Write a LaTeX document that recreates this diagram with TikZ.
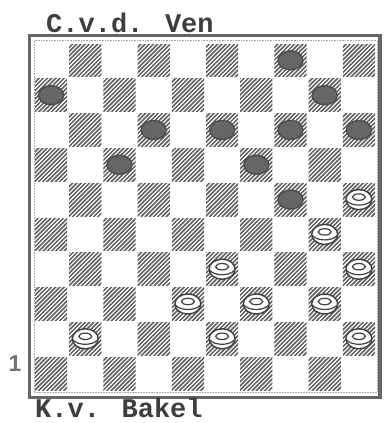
\documentclass[tikz,border=0pt]{standalone}
\usepackage{fontspec}
\usetikzlibrary{shapes.geometric}
\newfontfamily\typefont{Liberation Mono}
\newfontfamily\numfont{Liberation Sans}
\definecolor{ink}{HTML}{3E3E3E}
\definecolor{hatchc}{HTML}{606060}
\definecolor{framec}{HTML}{666666}
\tikzset{
  hatch/.style={draw=hatchc, line width=1.5pt},
  bpiece/.style={ellipse, minimum width=25pt, minimum height=19pt, inner sep=0pt,
    fill=black!60, draw=black!70, line width=1.4pt},
  wpiece/.style={ellipse, minimum width=26pt, minimum height=20pt, inner sep=0pt,
    fill=white, draw=black!75, line width=1.4pt},
  wdet/.style={draw=black!75, line width=1.2pt},
  label/.style={text=ink, inner sep=0pt, anchor=base west, font=\typefont\bfseries\fontsize{27}{27}\selectfont}
}
\begin{document}
\begin{tikzpicture}[x=1pt,y=-1pt]
\useasboundingbox (0,0) rectangle (384,423);
\fill[white] (0,0) rectangle (384,423);
\def\ox{34}\def\oy{43}\def\sx{34.2}\def\sy{34.8}
% hatched dark squares
\foreach \r in {1,...,10}{
  \foreach \c in {1,...,10}{
    \pgfmathtruncatemacro\p{mod(\r+\c,2)}
    \ifnum\p=1
      \begin{scope}
        \clip (\ox+\c*\sx-\sx+1, \oy+\r*\sy-\sy+1) rectangle ++(\sx-2,\sy-2);
        \foreach \k in {-10,...,9}{
          \draw[hatch] (\ox+\c*\sx-\sx+\k*4.2, \oy+\r*\sy) -- ++(40,-40);
        }
      \end{scope}
    \fi
  }
}
% frame
\draw[draw=framec, line width=3.5pt] (29.5,35.5) rectangle (380,397.5);
\draw[draw=black!35, line width=0.6pt, densely dotted] (34,40.5) rectangle (377,392.5);
% black pieces
\foreach \r/\c in {1/8,2/1,2/9,3/4,3/6,3/8,3/10,4/3,4/7,5/8}{
  \node[bpiece] (b\r-\c) at (\ox+\c*\sx-0.5*\sx, \oy+\r*\sy-0.5*\sy) {};
}
% white pieces
\foreach \r/\c in {5/10,6/9,7/6,7/10,8/5,8/7,8/9,9/2,9/6,9/10}{
  \node[wpiece] (w\r-\c) at (\ox+\c*\sx-0.5*\sx, \oy+\r*\sy-0.5*\sy) {};
  \draw[wdet] ([yshift=2.5pt]w\r-\c.center) ellipse (6.5pt and 3.2pt);
  \draw[wdet] ([shift={(-12.5,1)}]w\r-\c.center) .. controls +(5,6) and +(-5,6) .. ([shift={(12.5,1)}]w\r-\c.center);
}
% texts
\node[label] (top) at (46,32) {C.v.d. Ven};
\node[label] (bot) at (35,417) {K.v. Bakel};
\node[text=black!55, inner sep=0pt, font=\numfont\bfseries\fontsize{23}{23}\selectfont] (num) at (15,364) {1};
\end{tikzpicture}
\end{document}
